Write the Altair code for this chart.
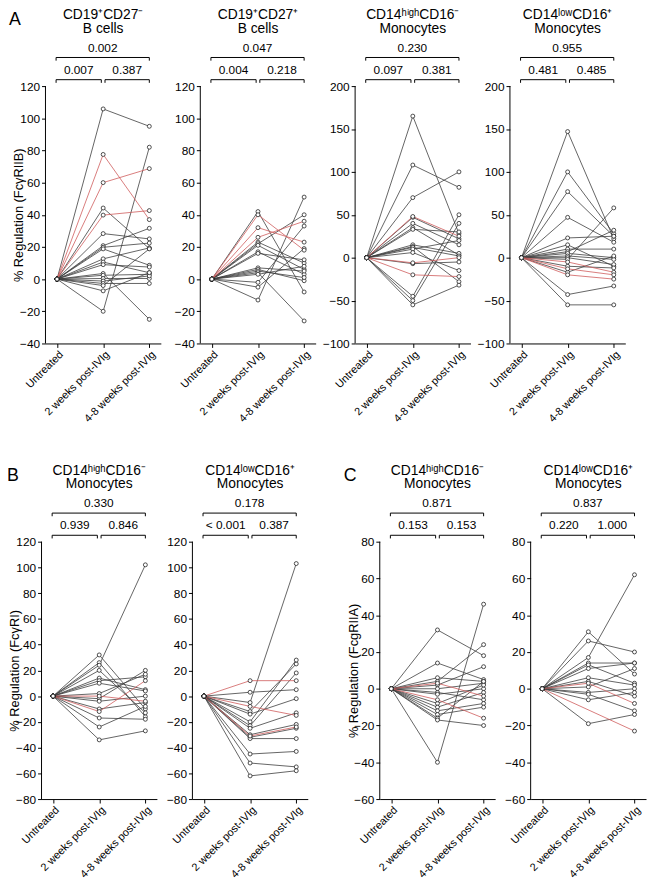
import altair as alt
import pandas as pd

FONT = "Liberation Sans"
CATS = ["Untreated", "2 weeks post-IVIg", "4-8 weeks post-IVIg"]

# ---------------- data ----------------
A1_TITLE = ["CD19⁺CD27⁻", "B cells"]
A1_W2 = [105.8, 77.5, 60, 44.2, 39.8, 28.3, 20.8, 19.8, 18.8, 12.6, 10.6, 9, 3.5, 2.4, 0.4, -1.2, -2.7, -4, -7.3, -20]
A1_W48 = [95, 37, 68.7, 19, 42.6, 25, 31.6, 22.4, 8.6, 19.4, 4, 7.5, -25, 3, 0.4, 2, -2.7, 18.8, 4, 82]
A1_RED = [1, 2, 4]
A1_P = ["0.002", "0.007", "0.387"]

A2_TITLE = ["CD19⁺CD27⁺", "B cells"]
A2_W2 = [42, 40, 32, 26, 23, 22, 21, 17, 16, 7, 6, 5, 4, 3, -2, -5, -13]
A2_W48 = [-8, 18, 23, 36, 10, 40, 6, 3, 12, 5, -1, 1, -26, 8, 33, 19, 51]
A2_RED = [1, 2, 3]
A2_P = ["0.047", "0.004", "0.218"]

A3_TITLE = ["CD14ʰⁱᵍʰCD16⁻", "Monocytes"]
A3_W2 = [165, 108, 70, 48, 47, 40, 35, 33, 15, 13, 12, 10, 6, -6, -7, -20, -45, -50, -55]
A3_W48 = [28, 82, 100, 25, 22, 15, 3, 30, 5, -28, 2, 20, -15, 0, -5, -22, 50, 40, -32]
A3_RED = [3, 13, 15]
A3_P = ["0.230", "0.097", "0.381"]

A4_TITLE = ["CD14ˡᵒʷCD16⁺", "Monocytes"]
A4_W2 = [147, 100, 77, 47, 23, 15, 10, 7, 5, 2, 0, -2, -5, -10, -13, -17, -20, -43, -55]
A4_W48 = [22, 28, 25, 18, 25, -10, 10, 32, 0, -2, -8, 58, -17, -12, -20, 2, -25, -33, -55]
A4_RED = [12, 14, 16]
A4_P = ["0.955", "0.481", "0.485"]

B1_TITLE = ["CD14ʰⁱᵍʰCD16⁻", "Monocytes"]
B1_W2 = [32, 26, 24, 20, 14, 12, 10, 2, 0, -2, -4, -12, -10, -17, -24, -34]
B1_W48 = [-10, -16, 102, -13, 5, 15, 4, 17, -4, 20, 0, 12, -5, -18, -8, -27]
B1_RED = [8, 11]
B1_P = ["0.330", "0.939", "0.846"]

B2_TITLE = ["CD14ˡᵒʷCD16⁺", "Monocytes"]
B2_W2 = [12, 3, -5, -8, -12, -14, -20, -23, -25, -30, -31, -32, -33, -45, -52, -62]
B2_W48 = [12, 5, 103, -15, 25, -2, 28, 18, -13, -22, -24, -25, -33, -43, -55, -58]
B2_RED = [0, 3, 10]
B2_P = ["0.178", "< 0.001", "0.387"]

C1_TITLE = ["CD14ʰⁱᵍʰCD16⁻", "Monocytes"]
C1_W2 = [32, 14, 6, 4, 3, 2, 0, -2, -3, -6, -8, -10, -12, -14, -16, -17, -40]
C1_W48 = [18, 5, 4, 24, -4, 12, 3, -6, 0, -16, 2, -2, -8, -10, 4, -20, 46]
C1_RED = [4, 9]
C1_P = ["0.871", "0.153", "0.153"]

C2_TITLE = ["CD14ˡᵒʷCD16⁺", "Monocytes"]
C2_W2 = [31, 26, 17, 14, 13, 11, 6, 4, 3, 1, -2, -3, -6, -19, None]
C2_W48 = [8, 20, 62, 14, 3, 14, 2, -4, -8, 11, 0, -12, -2, -14, -23]
C2_RED = [8, 14]
C2_P = ["0.837", "0.220", "1.000"]

LETTERS = ["A", "B", "C"]

# ---------------- layout constants ----------------
W = 117
AX_H = 261
EXT = 40
H = AX_H + EXT
XMIN, XMAX = -0.25, 2.25

LABEL_EXPR = ("datum.value == 0 ? '%s' : (datum.value == 1 ? '%s' : '%s')" % tuple(CATS))


def panel(title, w2, w48, red, ymin, ymax, step, pvals, ytitle=None):
    per_px = (ymax - ymin) / AX_H
    ytop = ymax + EXT * per_px
    rows = []
    for i, (a, b) in enumerate(zip(w2, w48)):
        grp = "red" if i in red else "black"
        for t, v in [(0, 0.0), (1, a), (2, b)]:
            if v is None:
                continue
            rows.append(dict(subj=i, t=t, v=v, g=grp, k=1 if grp == "red" else 0))
    df = pd.DataFrame(rows).sort_values(["k", "subj", "t"]).reset_index(drop=True)

    xs = alt.Scale(domain=[XMIN, XMAX], nice=False, zero=False)
    ys = alt.Scale(domain=[ymin, ytop], nice=False, zero=False)
    X = alt.X("t:Q", scale=xs, axis=alt.Axis(
        values=[0, 1, 2], labelExpr=LABEL_EXPR, labelAngle=-45, labelAlign="right",
        labelBaseline="top", title=None, grid=False, tickSize=4, labelFontSize=11,
        labelFont=FONT, labelColor="black", domainColor="black", tickColor="black",
        labelPadding=1, labelOverlap=False, labelFlush=False))
    yax = dict(values=list(range(ymin, ymax + 1, step)), domain=False, grid=False,
               tickSize=4, labelFontSize=12, labelFont=FONT, labelColor="black",
               tickColor="black", labelPadding=2)
    if ytitle:
        yax.update(title=ytitle, titleFont=FONT, titleFontSize=13, titleFontWeight="normal",
                   titleColor="black", titleX=-20, titleY=EXT + AX_H / 2,
                   titleBaseline="bottom", titleAngle=270, titleAlign="center")
    else:
        yax.update(title=None)
    Y = alt.Y("v:Q", scale=ys, axis=alt.Axis(**yax))

    lines = alt.Chart(df).mark_line(strokeWidth=0.8).encode(
        x=X, y=Y, detail="subj:N",
        color=alt.Color("g:N", scale=alt.Scale(domain=["black", "red"],
                                                range=["#3c3c3c", "#cf5b5b"]), legend=None))
    pts = alt.Chart(df).mark_point(shape="circle", filled=True, fill="white",
                                   stroke="#222222", strokeWidth=0.8, size=16,
                                   opacity=1).encode(x=X, y=Y)

    axdf = pd.DataFrame({"t": [XMIN], "v": [ymin], "v2": [ymax]})
    axis_line = alt.Chart(axdf).mark_rule(color="black", strokeWidth=1).encode(
        x=X, y=Y, y2="v2:Q")

    def yp(px):
        return ymax + px * per_px
    yt, yl, tk = yp(29), yp(6.5), 3.2 * per_px
    segs = [
        (-0.02, yt, 2.0, yt), (-0.02, yt, -0.02, yt - tk), (2.0, yt, 2.0, yt - tk),
        (-0.02, yl, 0.96, yl), (-0.02, yl, -0.02, yl - tk), (0.96, yl, 0.96, yl - tk),
        (1.04, yl, 2.0, yl), (1.04, yl, 1.04, yl - tk), (2.0, yl, 2.0, yl - tk),
    ]
    bdf = pd.DataFrame(segs, columns=["t", "v", "t2", "v2"])
    brackets = alt.Chart(bdf).mark_rule(color="black", strokeWidth=1).encode(
        x=X, y=Y, x2="t2:Q", y2="v2:Q")
    tdf = pd.DataFrame({"t": [0.99, 0.47, 1.52], "v": [yp(32), yp(9.5), yp(9.5)],
                        "label": pvals})
    ptext = alt.Chart(tdf).mark_text(font=FONT, fontSize=12, baseline="bottom",
                                     align="center", color="black").encode(
        x=X, y=Y, text="label:N")

    return alt.layer(lines, pts, axis_line, brackets, ptext).properties(
        width=W, height=H,
        title=alt.TitleParams(text=title, font=FONT, fontSize=14, fontWeight="normal",
                              lineHeight=14, baseline="bottom", offset=-8,
                              anchor="middle", color="black"))


def letter(s, align, dx):
    return alt.Chart(pd.DataFrame({"s": [s]})).mark_text(
        font=FONT, fontSize=18, align=align, baseline="middle", color="black").encode(
        text="s:N", x=alt.value(dx), y=alt.value(-27)
    ).properties(width=1, height=H)


A1 = panel(A1_TITLE, A1_W2, A1_W48, A1_RED, -40, 120, 20, A1_P,
           ytitle="% Regulation (FcγRIIB)")
A2 = panel(A2_TITLE, A2_W2, A2_W48, A2_RED, -40, 120, 20, A2_P)
A3 = panel(A3_TITLE, A3_W2, A3_W48, A3_RED, -100, 200, 50, A3_P)
A4 = panel(A4_TITLE, A4_W2, A4_W48, A4_RED, -100, 200, 50, A4_P)

B1 = panel(B1_TITLE, B1_W2, B1_W48, B1_RED, -80, 120, 20, B1_P,
           ytitle="% Regulation (FcγRI)")
B2 = panel(B2_TITLE, B2_W2, B2_W48, B2_RED, -80, 120, 20, B2_P)
C1 = panel(C1_TITLE, C1_W2, C1_W48, C1_RED, -60, 80, 20, C1_P,
           ytitle="% Regulation (FcgRIIA)")
C2 = panel(C2_TITLE, C2_W2, C2_W48, C2_RED, -60, 80, 20, C2_P)

top = alt.hconcat(letter(LETTERS[0], "left", 4), A1, A2, A3, A4, spacing=40, bounds="flush")
bottom = alt.hconcat(letter(LETTERS[1], "left", 2), B1, B2, letter(LETTERS[2], "center", 7),
                     C1, C2, spacing=36, bounds="flush")

chart = alt.vconcat(top, bottom, spacing=39).properties(
    padding={"left": -3, "top": -6, "right": 2, "bottom": 2}
).configure_view(stroke=None)

chart.save("out.html", embed_options={"renderer": "svg", "actions": False})
